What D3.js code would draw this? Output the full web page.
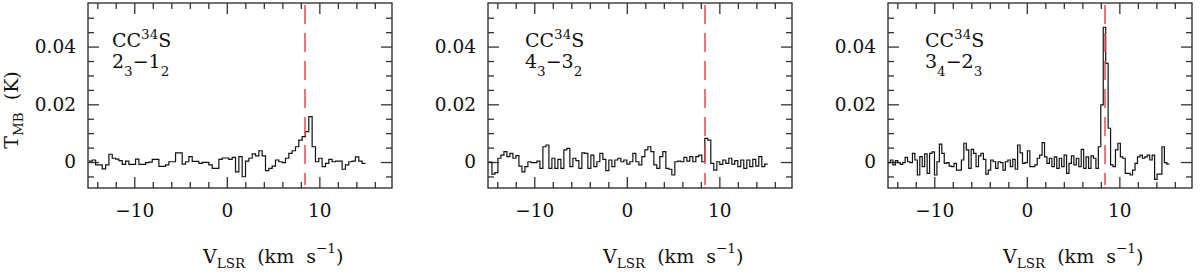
<!DOCTYPE html>
<html>
<head>
<meta charset="utf-8">
<script src="https://cdn.jsdelivr.net/npm/d3@7"></script>
<style>
  body { margin: 0; background: #fff; }
  text { font-family: "DejaVu Serif", serif; fill: #111; white-space: pre; }
  .tick text { font-size: 18.5px; }
</style>
</head>
<body>
<svg id="chart" width="1200" height="275"></svg>
<script>
// T_MB per channel, in mK
const tmb23 = [
  0.3, 0.7, -1.0, -1.0, -2.4, -1.0, 2.7, 1.3, 1.0, 0.5,
  -0.8, 0.3, -0.8, -0.8, 1.0, -0.8, -0.8, -0.2, 0.0, 0.9,
  0.9, -1.5, -1.5, -1.0, 0.1, 0.1, 3.2, 3.2, -0.7, 0.1,
  1.9, 0.2, 0.2, -0.5, -0.1, -0.1, -1.0, -2.2, -2.2, 0.9,
  1.4, 1.4, 0.9, 1.6, -3.4, 1.9, -5.1,
  0.3, 1.3, 2.8, 2.1, 3.9, 2.1, -3.0, -2.2, -1.4, 0.7,
  0.1, -0.2, 1.3, 3.0, 3.9, 5.3, 7.6, 8.8, 10.5, 15.7,
  5.3, 0.1, 1.3, -1.6, -0.5, 0.9, 0.1, 0.3, 0.3, -2.5,
  -1.0, 0.1, 0.3, 1.8, 0.3, -0.5
];
const tmb43 = [
  0.0, -4.2, -3.7, 1.3, 2.4, 3.6, 1.9, 3.0, 1.3, 2.2,
  -1.4, -3.4, -1.6, 0.1, -0.2, -0.2, 0.3, -2.2, 5.3, 5.9,
  -2.2, 1.3, -2.2, 0.9, -2.2, 4.2, 4.7, -1.6, 1.3, 0.5,
  -2.2, 3.2, 3.0, -2.2, 2.4, -1.6, 0.1, 3.0, 0.9, -3.0,
  0.7, -1.6, 0.7, 1.3, 0.1, 0.7, -0.7, 0.1, 3.0, 0.1,
  -1.0, 1.9, 4.2, 5.3, 3.6, -1.0, -2.2, 1.9, 3.6, -2.2,
  -2.5, -4.5, 0.1, 0.3, 0.1, 1.6, 0.3, 1.9, 0.1, 1.9,
  2.4, 0.1, 8.2, 7.6,
  -0.5, -2.8, 0.1, -0.8, 0.7, -0.5, 1.3, -0.7, 0.5, -1.6,
  0.7, -2.2, 0.7, -1.6, 0.9, -1.4, 1.9, -1.6, -0.7
];
const tmb34 = [
  -0.2, 0.7, -1.0, 0.5, -0.2, -0.8, -0.2, 1.6, 0.1, -0.2,
  3.0, 0.7, -4.5, 1.9, -1.6, 2.8, -3.9, 3.0, 3.5, -4.5,
  0.1, 6.2, 3.0, -0.5, -0.2, -1.4, -1.6, -0.5, -2.8, -2.8,
  0.7, 6.5, 4.2, -2.2, 4.4, 3.0, -1.6, 2.1, 3.0, 0.9,
  -4.2, -2.8, 0.7, 0.1, -2.2, 0.1, -0.2, -2.8, 0.1, 0.7,
  -1.6, 0.9, -2.5, 5.9, 3.2, -0.5, -0.2, 3.9, -1.6,
  -1.6, -1.0, 1.3, 2.4, 6.7, 1.8, -0.5, 1.3, -1.6, 1.8,
  -2.2, 1.3, -1.6, 2.4, -3.9, -0.5, 2.1, -1.0, 1.3, -1.6,
  4.4, -2.2, 1.8, -2.2, 2.1, 1.3, -2.2, 5.3, 19.8, 46.7,
  34.2, 11.7, -1.0, -1.6, 4.2, 6.5, 1.8, 1.3, -3.9, -3.9,
  -4.5, -2.8, -0.5, 1.8, 2.4, 1.3, 1.8, 2.4, 0.7, 2.4,
  -6.0, -4.2, -4.2, 5.3, -0.2, -0.7
];
const spectra = [tmb23, tmb43, tmb34];
const velStart = [-14.9, -14.9, -15.0];   // km/s, left edge of first channel
const chanWidth = [0.36, 0.324, 0.2643];  // km/s
const lineVel = [8.45, 8.45, 8.45];       // systemic velocity (red dashed)
// transition labels: upper J, upper N, lower J, lower N
const transitions = [["2", "3", "1", "2"], ["4", "3", "3", "2"], ["3", "4", "2", "3"]];
const xMajor = [-10, 0, 10];
const xMinor = [-14, -12, -8, -6, -4, -2, 2, 4, 6, 8, 12, 14, 16];
const yMajor = [0, 0.02, 0.04];
const yMinor = [-0.005, 0.005, 0.01, 0.015, 0.025, 0.03, 0.035, 0.045, 0.05];

const iw = 304, ih = 185;
const svg = d3.select("#chart");

const x = d3.scaleLinear().domain([-15, 17.85]).range([0, iw]);
const y = d3.scaleLinear().domain([-0.009, 0.0551]).range([ih, 0]);

const line = d3.line()
  .x(d => x(d[0]))
  .y(d => y(d[1]))
  .curve(d3.curveStepAfter);

function tidy(g) {
  g.select(".domain").remove();
  g.selectAll(".tick line").attr("stroke", "#333").attr("stroke-width", 1.3);
}

spectra.forEach((vals, p) => {
  const g = svg.append("g")
    .attr("transform", "translate(" + (88 + p * 400) + ",3)");

  // ticks on all four sides, pointing inwards
  g.append("g").attr("transform", `translate(0,${ih})`)
    .call(d3.axisBottom(x).tickValues(xMajor).tickSize(-11).tickPadding(16).tickFormat(d3.format("d")))
    .call(tidy);
  g.append("g").attr("transform", `translate(0,${ih})`)
    .call(d3.axisBottom(x).tickValues(xMinor).tickSize(-6).tickFormat(""))
    .call(tidy);
  g.append("g")
    .call(d3.axisTop(x).tickValues(xMajor).tickSize(-11).tickFormat(""))
    .call(tidy);
  g.append("g")
    .call(d3.axisTop(x).tickValues(xMinor).tickSize(-6).tickFormat(""))
    .call(tidy);
  g.append("g")
    .call(d3.axisLeft(y).tickValues(yMajor).tickSize(-11).tickPadding(12)
      .tickFormat(d => d === 0 ? "0" : d3.format(".2f")(d)))
    .call(tidy);
  g.append("g")
    .call(d3.axisLeft(y).tickValues(yMinor).tickSize(-6).tickFormat(""))
    .call(tidy);
  g.append("g").attr("transform", `translate(${iw},0)`)
    .call(d3.axisRight(y).tickValues(yMajor).tickSize(-11).tickFormat(""))
    .call(tidy);
  g.append("g").attr("transform", `translate(${iw},0)`)
    .call(d3.axisRight(y).tickValues(yMinor).tickSize(-6).tickFormat(""))
    .call(tidy);

  g.append("rect")
    .attr("width", iw).attr("height", ih)
    .attr("fill", "none")
    .attr("stroke", "#333")
    .attr("stroke-width", 1.4);

  // histogram-style spectrum
  const pts = vals.map((v, i) => [velStart[p] + i * chanWidth[p], v / 1000]);
  pts.push([velStart[p] + vals.length * chanWidth[p], vals[vals.length - 1] / 1000]);
  g.append("path")
    .datum(pts)
    .attr("d", line)
    .attr("fill", "none")
    .attr("stroke", "#111")
    .attr("stroke-width", 1.2);

  g.append("line")
    .attr("x1", x(lineVel[p])).attr("x2", x(lineVel[p]))
    .attr("y1", 2).attr("y2", ih - 3)
    .attr("stroke", "#f04848")
    .attr("stroke-width", 1.5)
    .attr("stroke-dasharray", "19,9");

  // molecule + transition
  const ax = p === 0 ? 24 : 37;
  const t1 = g.append("text").attr("x", ax).attr("y", 44).attr("font-size", 19);
  t1.append("tspan").text("CC");
  t1.append("tspan").attr("dy", -8).attr("font-size", 13.5).text("34");
  t1.append("tspan").attr("dy", 8).text("S");

  const tr = transitions[p];
  const t2 = g.append("text").attr("x", ax).attr("y", 65).attr("font-size", 19);
  t2.append("tspan").text(tr[0]);
  t2.append("tspan").attr("dy", 8).attr("font-size", 13.5).text(tr[1]);
  t2.append("tspan").attr("dy", -8).text("\u2212" + tr[2]);
  t2.append("tspan").attr("dy", 8).attr("font-size", 13.5).text(tr[3]);

  // x-axis title
  const xl = g.append("text").attr("x", 115).attr("y", 260).attr("font-size", 19);
  xl.append("tspan").text("V");
  xl.append("tspan").attr("dy", 5).attr("font-size", 13.5).text("LSR");
  xl.append("tspan").attr("dy", -5).text("\u00a0\u00a0(km\u00a0\u00a0s");
  xl.append("tspan").attr("dy", -10).attr("font-size", 13.5).text("\u22121");
  xl.append("tspan").attr("dy", 10).text(")");

  if (p === 0) {
    const yl = g.append("text")
      .attr("transform", `translate(${18 - 88},${107})rotate(-90)`)
      .attr("text-anchor", "middle")
      .attr("font-size", 19);
    yl.append("tspan").text("T");
    yl.append("tspan").attr("dy", 5).attr("font-size", 13.5).text("MB");
    yl.append("tspan").attr("dy", -5).text("\u00a0\u00a0(K)");
  }
});
</script>
</body>
</html>
